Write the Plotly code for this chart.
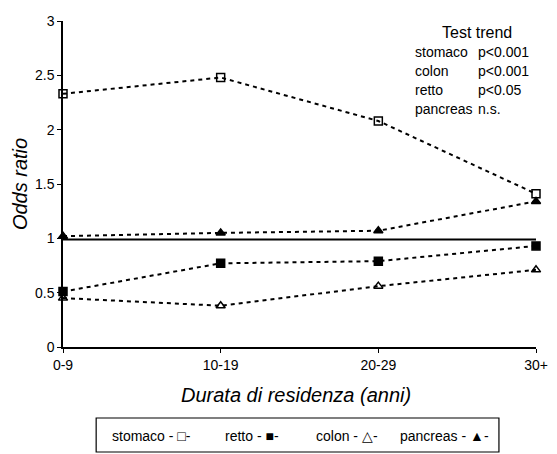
import plotly.graph_objects as go

# Residence-duration classes and odds ratios per cancer site
durata = ["0-9", "10-19", "20-29", "30+"]
stomaco = [2.33, 2.48, 2.08, 1.41]
retto = [0.51, 0.77, 0.79, 0.93]
colon = [0.45, 0.38, 0.56, 0.71]
pancreas = [1.02, 1.05, 1.07, 1.34]

# Trend test results
trend_sites = ["stomaco", "colon", "retto", "pancreas"]
trend_p = ["p<0.001", "p<0.001", "p<0.05", "n.s."]

y_ticks = [0, 0.5, 1, 1.5, 2, 2.5, 3]
y_ticklabels = ["0", "0.5", "1", "1.5", "2", "2.5", "3"]

W, H = 557, 454
L, R, T, B = 63, 9, 21, 107
PW, PH = W - L - R, H - T - B
FONT = "Liberation Sans, Arial, sans-serif"

# Convert page pixel positions into plot-area paper coordinates
def px_x(x):
    return (x - L) / PW

def px_y(y):
    return (H - B - y) / PH

series = [
    ("stomaco", stomaco, "square-open", "\u25a1"),
    ("retto", retto, "square", "\u25a0"),
    ("colon", colon, "triangle-up-open", "\u25b3"),
    ("pancreas", pancreas, "triangle-up", "\u25b2"),
]

fig = go.Figure()
xs = list(range(len(durata)))
for name, vals, sym, _ in series:
    fig.add_trace(go.Scatter(
        x=xs, y=vals, name=name, mode="lines+markers",
        line=dict(color="black", width=2, dash="4px,4px"),
        marker=dict(symbol=sym, size=8, color="black",
                    line=dict(color="black", width=1.5)),
        cliponaxis=False, showlegend=False,
    ))

# Reference line at OR = 1
fig.add_shape(type="line", xref="x", yref="y", x0=0, x1=3, y0=0.99, y1=0.99,
              line=dict(color="black", width=2))

# Frame around the hand-made key
fig.add_shape(type="rect", xref="paper", yref="paper",
              x0=px_x(97), x1=px_x(510), y0=px_y(452), y1=px_y(418),
              line=dict(color="black", width=1.2))

fig.update_layout(
    width=W, height=H,
    margin=dict(l=L, r=R, t=T, b=B),
    plot_bgcolor="white", paper_bgcolor="white",
    font=dict(family=FONT, color="black", size=13),
    xaxis=dict(range=[0, 3], tickvals=xs, ticktext=durata, showgrid=False,
               zeroline=False, showline=True, linecolor="black", linewidth=1.5,
               ticks="outside", ticklen=4, tickcolor="black",
               ticklabeloverflow="allow",
               tickfont=dict(size=14, family=FONT)),
    yaxis=dict(range=[0, 3], tickvals=y_ticks, ticktext=y_ticklabels,
               showgrid=False, zeroline=False, showline=True,
               linecolor="black", linewidth=1.5, ticks="outside", ticklen=4,
               tickcolor="black", tickfont=dict(size=14, family=FONT)),
)

def note(text, x, y, size, **kw):
    d = dict(text=text, x=px_x(x), y=px_y(y), xref="paper", yref="paper",
             showarrow=False, xanchor="center", yanchor="middle",
             font=dict(size=size, family=FONT))
    d.update(kw)
    return d

ann = []
# Axis titles
ann.append(note("<i>Durata di residenza (anni)</i>", 302, 395, 20))
ann.append(note("<i>Odds ratio</i>", 19, 184, 20, textangle=-90))

# Trend test box
ann.append(note("Test trend", 487, 32, 16))
for i, (site, p) in enumerate(zip(trend_sites, trend_p)):
    yy = 52 + i * 19
    ann.append(note(site, 422, yy, 14, xanchor="left"))
    ann.append(note(p, 486, yy, 14, xanchor="left"))

# Key entries: name followed by its line/marker glyph
key_x = [111, 227, 320, 407]
for (name, _, _, glyph), kx in zip(series, key_x):
    ann.append(note(f"{name} - {glyph}-", kx, 436, 14, xanchor="left"))

fig.update_layout(annotations=ann)
fig.write_html("out.html")
